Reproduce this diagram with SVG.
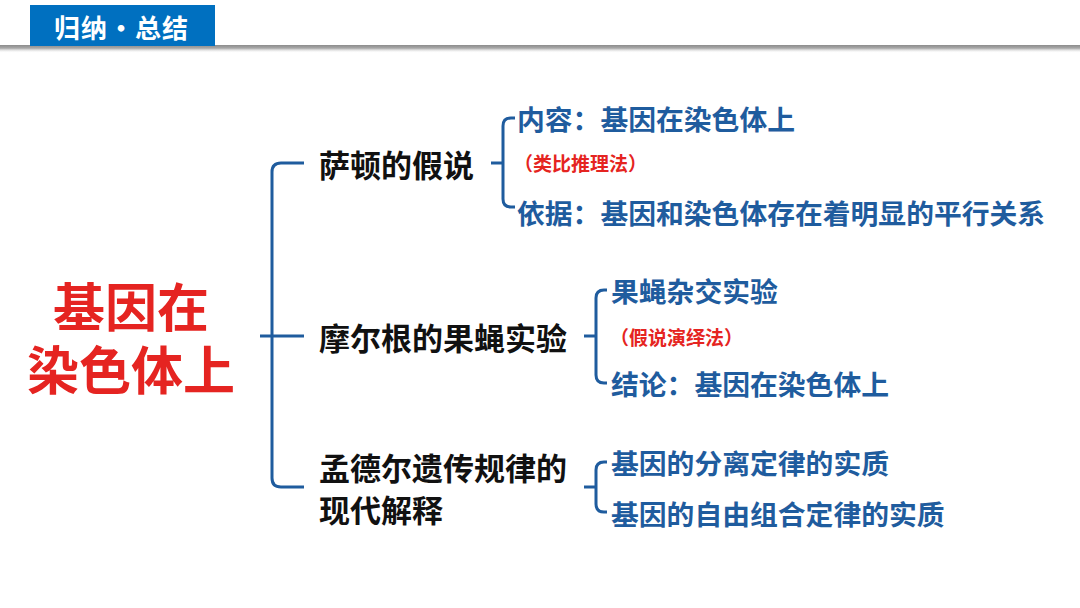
<svg xmlns="http://www.w3.org/2000/svg" width="1080" height="608" viewBox="0 0 1080 608">
<defs>
<linearGradient id="sh" x1="0" y1="0" x2="0" y2="1">
<stop offset="0" stop-color="#8c8c8c"/>
<stop offset="0.4" stop-color="#a8a8a8"/>
<stop offset="1" stop-color="#ffffff" stop-opacity="0"/>
</linearGradient>
</defs>
<style>
text{font-family:"Noto Sans CJK SC","Noto Sans",sans-serif;font-weight:700;dominant-baseline:central}
.hd{fill:#ffffff;font-size:26px;letter-spacing:1px}
.title{fill:#E52421;font-size:52px;text-anchor:middle}
.main{fill:#111111;font-size:31px}
.sub{fill:#1F5C9E;font-size:27.8px}
.note{fill:#E52421;font-size:19px}
.br{fill:none;stroke:#1F5C9E;stroke-width:3}
</style>
<rect x="0" y="0" width="1080" height="608" fill="#ffffff"/>
<g id="header">
<rect x="0" y="45" width="1080" height="8" fill="url(#sh)"/>
<rect x="30" y="5" width="185" height="41" fill="#0070C0"/>
<text class="hd" x="54" y="26">归纳·总结</text>
</g>
<g id="connectors">
<path class="br" d="M304,163 H281 Q272,163 272,172 V478 Q272,487 281,487 H304"/>
<path class="br" d="M260,336 H304"/>
<path class="br" d="M515,118 H511 Q503,118 503,126 V199 Q503,207 511,207 H515"/>
<path class="br" d="M491,163 H503"/>
<path class="br" d="M607,290 H604 Q596,290 596,298 V375 Q596,383 604,383 H607"/>
<path class="br" d="M584,336 H596"/>
<path class="br" d="M607,462 H604 Q596,462 596,470 V504 Q596,512 604,512 H607"/>
<path class="br" d="M584,487 H596"/>
</g>
<g id="root">
<text class="title" x="131" y="304"><tspan x="131" y="304">基因在</tspan><tspan x="131" y="367">染色体上</tspan></text>
</g>
<g id="n1">
<text class="main" x="319" y="163">萨顿的假说</text>
</g>
<g id="n1a">
<text class="sub" x="517" y="118">内容：基因在染色体上</text>
</g>
<g id="n1note">
<text class="note" x="514" y="162">（类比推理法）</text>
</g>
<g id="n1b">
<text class="sub" x="517" y="212">依据：基因和染色体存在着明显的平行关系</text>
</g>
<g id="n2">
<text class="main" x="319" y="336">摩尔根的果蝇实验</text>
</g>
<g id="n2a">
<text class="sub" x="611" y="290">果蝇杂交实验</text>
</g>
<g id="n2note">
<text class="note" x="610" y="336">（假说演绎法）</text>
</g>
<g id="n2b">
<text class="sub" x="611" y="383">结论：基因在染色体上</text>
</g>
<g id="n3">
<text class="main" x="319" y="466"><tspan x="319" y="466">孟德尔遗传规律的</tspan><tspan x="319" y="508">现代解释</tspan></text>
</g>
<g id="n3a">
<text class="sub" x="611" y="462">基因的分离定律的实质</text>
</g>
<g id="n3b">
<text class="sub" x="611" y="513">基因的自由组合定律的实质</text>
</g>
</svg>
